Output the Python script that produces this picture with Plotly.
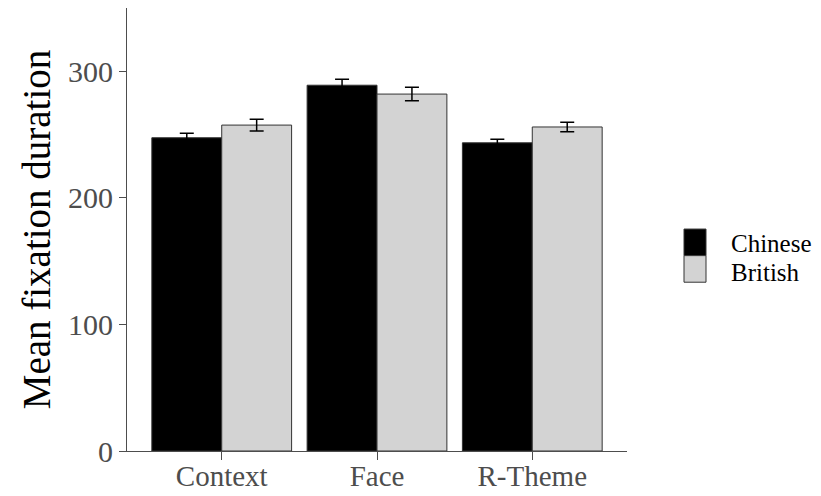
import plotly.graph_objects as go

# Mean fixation duration by region and group
regions = ["Context", "Face", "R-Theme"]
groups = ["Chinese", "British"]
chinese_mean = [247.5, 289.0, 243.5]
chinese_se = [3.5, 4.7, 2.8]
british_mean = [257.5, 282.0, 256.0]
british_se = [4.6, 5.3, 3.7]

y_ticks = [0, 100, 200, 300]

serif = "Liberation Serif, Times New Roman, serif"
axis_grey = "#4d4d4d"
fills = {"Chinese": "black", "British": "#d3d3d3"}
outline = "#333333"

fig = go.Figure()
for name, means, ses in [("Chinese", chinese_mean, chinese_se),
                         ("British", british_mean, british_se)]:
    fig.add_trace(go.Bar(
        name=name, x=regions, y=means, showlegend=False,
        marker=dict(color=fills[name], line=dict(color=outline, width=1)),
        error_y=dict(type="data", array=ses, color="black", thickness=1.5, width=7),
    ))

# Legend keys drawn as stacked swatches beside the panel
key_x0, key_x1 = 1.114, 1.158
key_top = 0.501
key_h = 0.060
label_y = [0.468, 0.402]
for i, name in enumerate(groups):
    y1 = key_top - i * key_h
    y0 = y1 - key_h
    fig.add_shape(type="rect", xref="paper", yref="paper",
                  x0=key_x0, x1=key_x1, y0=y0, y1=y1,
                  fillcolor=fills[name], line=dict(color=outline, width=1))
    fig.add_annotation(xref="paper", yref="paper", x=1.203, y=label_y[i],
                       text=name, showarrow=False, xanchor="left", yanchor="middle",
                       font=dict(family=serif, size=25, color="black"))

fig.update_layout(
    width=821, height=496,
    margin=dict(l=127, r=194, t=8, b=45),
    barmode="group", bargap=0.1, bargroupgap=0,
    plot_bgcolor="white", paper_bgcolor="white",
    font=dict(family=serif, color=axis_grey),
    xaxis=dict(
        type="category", range=[-0.61, 2.61], automargin=False,
        showline=True, linecolor=axis_grey, linewidth=1,
        ticks="outside", ticklen=8, tickcolor=axis_grey,
        ticklabelstandoff=-9,
        tickfont=dict(family=serif, size=29, color=axis_grey),
        showgrid=False, zeroline=False,
    ),
    yaxis=dict(
        range=[0, 350], tickvals=y_ticks, automargin=False,
        showline=True, linecolor=axis_grey, linewidth=1,
        ticks="outside", ticklen=7, tickcolor=axis_grey,
        tickfont=dict(family=serif, size=30, color=axis_grey),
        showgrid=False, zeroline=False,
        title=dict(text="Mean fixation duration",
                   font=dict(family=serif, size=39, color="black"), standoff=5),
    ),
)

fig.write_html("out.html")
